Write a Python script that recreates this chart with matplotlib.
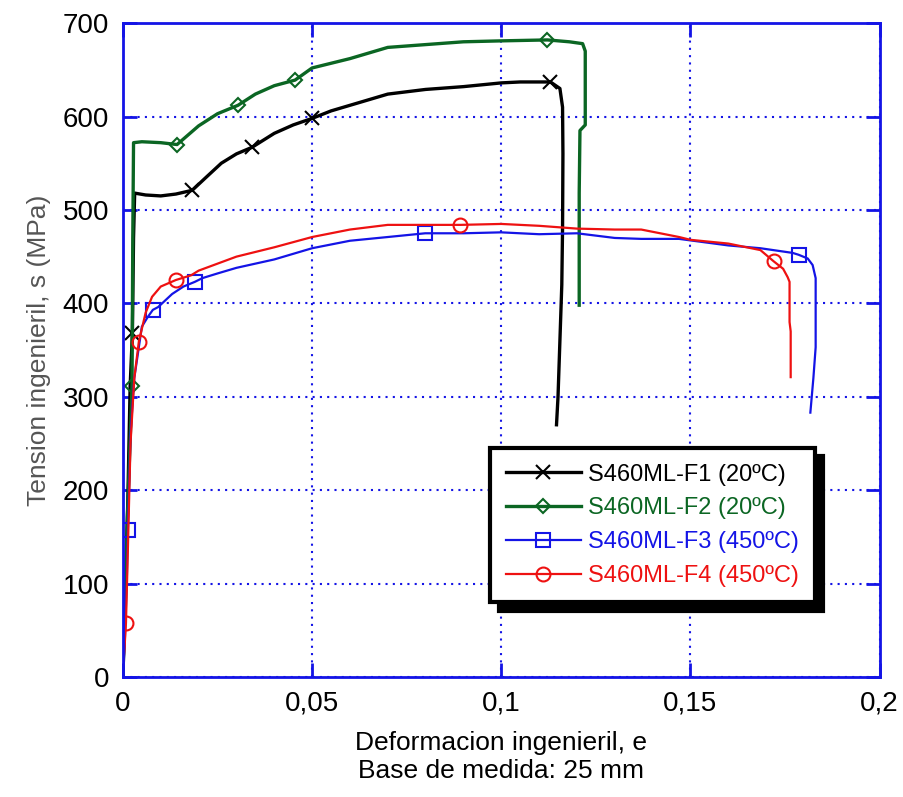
import matplotlib
matplotlib.use("Agg")
import matplotlib.pyplot as plt

plt.rcParams['font.family'] = ['Liberation Sans', 'DejaVu Sans']

# S460ML-F1 (20ºC)
x1 = [0, 0.0013, 0.0019, 0.0025, 0.0028, 0.0031, 0.006, 0.01, 0.014, 0.0183, 0.022, 0.026, 0.03, 0.0341,
      0.04, 0.045, 0.05, 0.055, 0.06, 0.07, 0.08, 0.09, 0.1, 0.105, 0.11, 0.113, 0.1155, 0.1162, 0.1163,
      0.1162, 0.116, 0.1155, 0.115, 0.1146]
y1 = [0, 190, 311, 368, 470, 518, 516, 515, 517, 521, 535, 550, 560, 567,
      582, 591, 598, 606, 612, 624, 629, 632, 636, 637, 637, 637, 630, 610, 560,
      480, 420, 360, 300, 270]
mk1 = [3, 9, 13, 16, 25]

# S460ML-F2 (20ºC)
x2 = [0, 0.001, 0.0024, 0.0026, 0.0028, 0.005, 0.01, 0.0143, 0.02, 0.025, 0.0304, 0.035, 0.04, 0.0455,
      0.05, 0.06, 0.07, 0.08, 0.09, 0.1, 0.1122, 0.118, 0.1215, 0.1222, 0.1222, 0.1208, 0.1206, 0.1206]
y2 = [0, 150, 311, 470, 572, 573, 572, 570, 590, 603, 612, 624, 633, 639,
      652, 662, 674, 677, 680, 681, 682, 680, 678, 670, 591, 585, 518, 398]
mk2 = [2, 7, 10, 13, 20]

# S460ML-F3 (450ºC)
x3 = [0, 0.0005, 0.001, 0.0013, 0.002, 0.003, 0.005, 0.0065, 0.0079, 0.0093, 0.013, 0.016, 0.019, 0.021,
      0.025, 0.03, 0.04, 0.05, 0.06, 0.07, 0.0799, 0.09, 0.1, 0.11, 0.12, 0.13, 0.137, 0.147, 0.16,
      0.1685, 0.177, 0.1786, 0.181, 0.1823, 0.1831, 0.1831, 0.1825, 0.1817]
y3 = [0, 40, 100, 157, 260, 320, 375, 385, 393, 396, 410, 418, 423, 427,
      432, 438, 447, 459, 467, 471, 475, 475, 476, 474, 475, 470, 469, 469, 462,
      459, 454, 452, 448, 441, 427, 353, 320, 283]
mk3 = [3, 8, 12, 20, 31]

# S460ML-F4 (450ºC)
x4 = [0, 0.0004, 0.0008, 0.0012, 0.002, 0.003, 0.0042, 0.006, 0.0077, 0.01, 0.014, 0.018, 0.02, 0.03,
      0.04, 0.05, 0.06, 0.07, 0.08, 0.0892, 0.1, 0.11, 0.12, 0.13, 0.137, 0.147, 0.15, 0.16, 0.1685,
      0.172, 0.1745, 0.1757, 0.1762, 0.1762, 0.1765, 0.1765]
y4 = [10, 30, 58, 120, 250, 320, 359, 390, 407, 418, 425, 430, 435, 450,
      460, 471, 479, 484, 484, 484, 485, 483, 480, 479, 479, 471, 468, 464, 457,
      445, 437, 428, 423, 380, 370, 321]
mk4 = [2, 6, 10, 19, 29]

labels = ['S460ML-F1 (20ºC)', 'S460ML-F2 (20ºC)', 'S460ML-F3 (450ºC)', 'S460ML-F4 (450ºC)']
colors = ['black', '#0b6623', '#1414e6', '#ee1111']
xticks = [0, 0.05, 0.1, 0.15, 0.2]
xticklabels = ['0', '0,05', '0,1', '0,15', '0,2']
yticks = [0, 100, 200, 300, 400, 500, 600, 700]

fig = plt.figure(figsize=(9.04, 7.97), dpi=100)
ax = fig.add_axes([0.136, 0.1506, 0.837, 0.8204])

ax.plot(x1, y1, color=colors[0], lw=2.4, marker='x', ms=10, mew=1.5, markevery=mk1, label=labels[0])
ax.plot(x2, y2, color=colors[1], lw=2.4, marker='D', ms=7, mfc='none', mew=1.5, markevery=mk2, label=labels[1])
ax.plot(x3, y3, color=colors[2], lw=1.6, marker='s', ms=10, mfc='none', mew=1.5, markevery=mk3, label=labels[2])
ax.plot(x4, y4, color=colors[3], lw=1.6, marker='o', ms=10, mfc='none', mew=1.5, markevery=mk4, label=labels[3])

ax.set_xlim(0, 0.2)
ax.set_ylim(0, 700)
ax.set_xticks(xticks)
ax.set_xticklabels(xticklabels)
ax.set_yticks(yticks)
ax.tick_params(direction='in', length=10, width=2, color='#1414e6', top=True, right=True,
               labelsize=20, pad=10)
for s in ax.spines.values():
    s.set_color('#1414e6')
    s.set_linewidth(2)
ax.grid(True, color='#1414e6', ls=(0, (1, 2.5)), lw=1.5)

ax.set_xlabel('Deformacion ingenieril, e\nBase de medida: 25 mm', fontsize=19, linespacing=1.25,
              labelpad=10)
ax.set_ylabel('Tension ingenieril, s (MPa)', fontsize=19, color='#555555', labelpad=8)

leg = ax.legend(loc='upper left', bbox_to_anchor=(0.47, 0.368), fontsize=17, frameon=True,
                fancybox=False, shadow={'color': 'black', 'alpha': 1, 'ox': 6, 'oy': -6},
                handlelength=3.2, numpoints=1, labelcolor='linecolor', borderpad=0.65,
                labelspacing=0.5, handletextpad=0.3)
leg.get_frame().set_edgecolor('black')
leg.get_frame().set_linewidth(3)

fig.savefig('out.png', dpi=100)
